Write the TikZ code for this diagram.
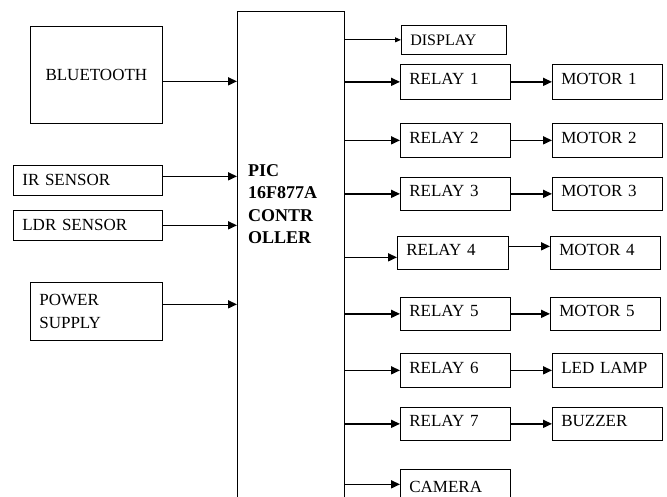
\documentclass[tikz,border=0pt]{standalone}
\usepackage{fontspec}
\setmainfont{Liberation Serif}
\usetikzlibrary{positioning,arrows.meta}

\begin{document}
\begin{tikzpicture}[
    x=1pt, y=-1pt,
    >={Triangle[length=9pt,width=8pt]},
    box/.style={draw, line width=0.7pt, anchor=north west, inner xsep=9pt, inner ysep=0pt, align=left, font=\fontsize{17}{20}\selectfont},
    relbox/.style={box, text width=92pt, text depth=5pt},
    arr/.style={->, line width=1.6pt},
    thinarr/.style={-{Triangle[length=6pt,width=5pt]}, line width=0.8pt}
  ]
    \useasboundingbox (0,0) rectangle (667,497);
    \clip (0,0) rectangle (667,497);
    % Controller
    \node[box, minimum width=107pt, minimum height=500pt] (pic) at (237,11) {};
    \node[anchor=west, inner sep=0pt, align=left, font=\bfseries\fontsize{18}{22.3}\selectfont] (pictext) at (248,204) {PIC\\16F877A\\CONTR\\OLLER};
    % Inputs
    \node[box, text width=114pt, align=center, minimum height=97pt] (bt) at (30,26) {BLUETOOTH};
    \node[box, text width=131pt, minimum height=30pt] (ir) at (13,165) {IR SENSOR};
    \node[box, text width=131pt, minimum height=30pt] (ldr) at (13,210) {LDR SENSOR};
    \node[box, text width=114pt, minimum height=58pt, font=\fontsize{17}{23}\selectfont] (pwr) at (30,282) {POWER\\SUPPLY};
    % Outputs
    \node[box, text width=87pt, minimum height=29pt, font=\fontsize{16}{18}\selectfont] (disp) at (401,25) {DISPLAY};
    \node[relbox, minimum height=35pt] (rel1) at (400,64) {RELAY 1};
    \node[relbox, minimum height=35pt] (mot1) at (552,64) {MOTOR 1};
    \node[relbox, minimum height=34pt] (rel2) at (400,123) {RELAY 2};
    \node[relbox, minimum height=34pt] (mot2) at (552,123) {MOTOR 2};
    \node[relbox, minimum height=33pt] (rel3) at (400,177) {RELAY 3};
    \node[relbox, minimum height=33pt] (mot3) at (552,177) {MOTOR 3};
    \node[relbox, text width=93pt, minimum height=33pt] (rel4) at (397,236) {RELAY 4};
    \node[relbox, minimum height=33pt] (mot4) at (550,236) {MOTOR 4};
    \node[relbox, minimum height=33pt] (rel5) at (400,297) {RELAY 5};
    \node[relbox, minimum height=33pt] (mot5) at (550,297) {MOTOR 5};
    \node[relbox, minimum height=34pt] (rel6) at (400,353) {RELAY 6};
    \node[relbox, minimum height=34pt] (led) at (552,353) {LED LAMP};
    \node[relbox, minimum height=33pt] (rel7) at (400,407) {RELAY 7};
    \node[relbox, minimum height=33pt] (buz) at (552,407) {BUZZER};
    \node[relbox, minimum height=40pt] (cam) at (400,469) {CAMERA};
    % Offset arrow ends
    \coordinate (btout) at ([yshift=-6.5pt]bt.east);
    \coordinate (irout) at ([yshift=4pt]ir.east);
    \coordinate (pwrout) at ([yshift=7pt]pwr.east);
    \coordinate (r4in) at ([yshift=-4.5pt]rel4.west);
    \coordinate (r4out) at ([yshift=6.5pt]rel4.east);
    \coordinate (camin) at ([yshift=5pt]cam.west);
    % Arrows into controller
    \draw[arr] (btout) -- (btout -| pic.west);
    \draw[arr] (irout) -- (irout -| pic.west);
    \draw[arr] (ldr.east) -- (ldr.east -| pic.west);
    \draw[arr] (pwrout) -- (pwrout -| pic.west);
    % Arrows out of controller
    \draw[thinarr] (pic.east |- disp.west) -- (disp.west);
    \foreach \r in {rel1,rel2,rel3,rel5,rel6,rel7}
      \draw[arr] (pic.east |- \r.west) -- (\r.west);
    \draw[arr] (pic.east |- r4in) -- (r4in);
    \draw[arr] (pic.east |- camin) -- (camin);
    % Relays to loads
    \foreach \r/\m in {rel1/mot1,rel2/mot2,rel3/mot3,rel5/mot5,rel6/led,rel7/buz}
      \draw[arr] (\r.east) -- (\m.west);
    \draw[arr] (r4out) -- (r4out -| mot4.west);
\end{tikzpicture}
\end{document}
